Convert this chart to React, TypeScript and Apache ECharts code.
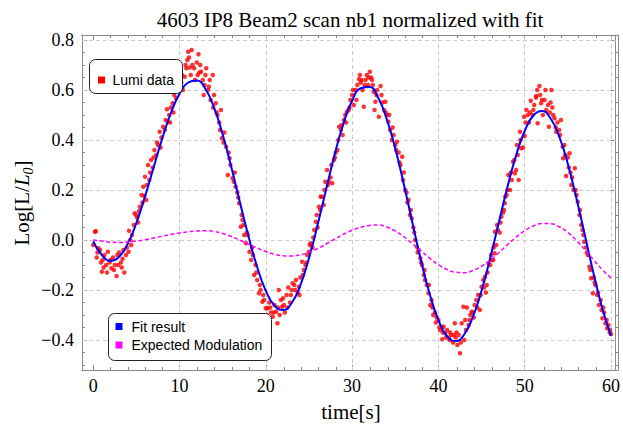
import { useEffect, useRef } from 'react';
import * as echarts from 'echarts';

const TITLE = '4603 IP8 Beam2 scan nb1 normalized with fit';
const X_TITLE = 'time[s]';
const LEGEND_LUMI = 'Lumi data';
const LEGEND_FIT = 'Fit result';
const LEGEND_MOD = 'Expected Modulation';

const X_MIN = -1.3;
const X_MAX = 60.54;
const Y_MIN = -0.52;
const Y_MAX = 0.82;

const xTicks = [0, 10, 20, 30, 40, 50, 60];
const xMinorTicks = [2, 4, 6, 8, 12, 14, 16, 18, 22, 24, 26, 28, 32, 34, 36, 38, 42, 44, 46, 48, 52, 54, 56, 58];
const xGridLines = [10, 20, 30, 40, 50, 60];
const yTicks = [-0.4, -0.2, 0, 0.2, 0.4, 0.6, 0.8];
const yMinorTicks = [-0.5, -0.45, -0.35, -0.3, -0.25, -0.15, -0.1, -0.05, 0.05, 0.1, 0.15, 0.25, 0.3, 0.35, 0.45, 0.5, 0.55, 0.65, 0.7, 0.75];
const yGridLines = [-0.4, -0.2, 0, 0.2, 0.4, 0.6, 0.8];

const curveTime = [
  0, 1, 2, 3, 4, 5, 6, 7, 8, 9, 10, 11, 12, 13, 14, 15, 16, 17, 18, 19, 20,
  21, 22, 23, 24, 25, 26, 27, 28, 29, 30, 31, 32, 33, 34, 35, 36, 37, 38, 39, 40,
  41, 42, 43, 44, 45, 46, 47, 48, 49, 50, 51, 52, 53, 54, 55, 56, 57, 58, 59, 60,
];

const fitValues = [
  -0.005, -0.06, -0.083, -0.067, -0.015, 0.068, 0.174, 0.29, 0.406, 0.508, 0.585,
  0.63, 0.638, 0.604, 0.53, 0.422, 0.292, 0.151, 0.014, -0.108, -0.203,
  -0.262, -0.28, -0.252, -0.181, -0.073, 0.06, 0.204, 0.345, 0.466, 0.557,
  0.607, 0.612, 0.57, 0.485, 0.366, 0.222, 0.067, -0.084, -0.217, -0.32,
  -0.385, -0.404, -0.377, -0.307, -0.203, -0.072, 0.07, 0.212, 0.338, 0.436,
  0.498, 0.516, 0.486, 0.414, 0.304, 0.166, 0.015, -0.137, -0.274, -0.384,
];

const modulationValues = [
  0.0, -0.004, -0.009, -0.01, -0.008, -0.004, 0.001, 0.008, 0.015, 0.022, 0.028,
  0.033, 0.036, 0.037, 0.034, 0.026, 0.014, -0.001, -0.017, -0.032, -0.046,
  -0.057, -0.063, -0.064, -0.059, -0.049, -0.034, -0.016, 0.004, 0.023, 0.039,
  0.051, 0.058, 0.06, 0.052, 0.036, 0.013, -0.015, -0.044, -0.073, -0.099,
  -0.118, -0.129, -0.131, -0.122, -0.105, -0.081, -0.051, -0.019, 0.011, 0.037,
  0.056, 0.066, 0.065, 0.053, 0.03, -0.002, -0.04, -0.08, -0.119, -0.152,
];

const lumiData: [number, number][] = [
  [0, -0.02], [0.2, 0.033], [0.3, 0.035], [0.4, -0.07], [0.6, -0.033], [0.8, -0.04],
  [1.0, -0.127], [1.1, -0.08], [1.3, -0.06], [1.5, -0.1], [1.7, -0.047], [1.9, -0.09],
  [2.1, -0.113], [2.3, -0.07], [2.5, -0.1], [2.7, -0.144], [2.8, -0.06], [3.0, -0.05],
  [3.2, -0.09], [3.4, -0.075], [3.6, -0.13], [3.8, -0.06], [3.9, -0.03],
  [4.1, -0.047], [4.15, 0.037], [4.3, 0.0], [4.5, 0.02], [4.7, 0.06], [4.8, 0.107], [4.95, 0.1],
  [5.1, 0.09], [5.3, 0.115], [5.4, 0.133], [5.6, 0.18], [5.8, 0.213], [5.9, 0.176],
  [6.0, 0.253], [6.15, 0.16], [6.35, 0.3], [6.5, 0.24], [6.7, 0.32], [6.9, 0.29],
  [7.1, 0.36], [7.3, 0.34], [7.5, 0.38], [7.7, 0.433], [7.9, 0.41],
  [8.1, 0.453], [8.3, 0.44], [8.55, 0.523], [8.65, 0.473], [8.8, 0.5], [9.0, 0.53],
  [9.2, 0.547], [9.4, 0.58], [9.6, 0.567], [9.8, 0.6], [10.0, 0.62],
  [10.2, 0.63], [10.4, 0.6], [10.6, 0.653], [10.8, 0.687], [10.9, 0.72], [11.0, 0.753],
  [11.1, 0.73], [11.3, 0.66], [11.5, 0.7], [11.7, 0.687], [11.8, 0.64], [12.0, 0.71],
  [12.2, 0.743], [12.3, 0.67], [12.5, 0.673], [12.7, 0.64], [12.8, 0.58], [13.0, 0.66],
  [13.1, 0.687], [13.3, 0.6], [13.4, 0.613], [13.6, 0.56], [13.85, 0.66], [13.9, 0.53],
  [14.2, 0.547], [14.4, 0.5], [14.6, 0.47], [14.8, 0.52], [14.9, 0.407],
  [15.1, 0.39], [15.4, 0.373], [15.6, 0.26], [15.8, 0.327], [15.9, 0.3],
  [16.15, 0.247], [16.3, 0.233], [16.5, 0.213], [16.7, 0.19], [16.9, 0.147],
  [17.1, 0.053], [17.2, 0.1], [17.4, 0.06], [17.5, 0.02], [17.7, -0.013], [17.9, 0.02],
  [18.1, -0.047], [18.3, -0.08], [18.5, -0.06], [18.65, -0.14], [18.8, -0.1], [19.0, -0.16],
  [19.2, -0.213], [19.4, -0.2], [19.6, -0.247], [19.8, -0.24], [20.0, -0.273],
  [20.2, -0.273], [20.4, -0.25], [20.6, -0.29], [20.8, -0.307], [21.0, -0.26],
  [21.2, -0.287], [21.35, -0.333], [21.5, -0.2], [21.6, -0.3], [21.75, -0.24], [21.9, -0.267], [22.0, -0.233],
  [22.2, -0.29], [22.4, -0.22], [22.6, -0.19], [22.8, -0.25], [23.0, -0.2],
  [23.1, -0.173], [23.3, -0.18], [23.5, -0.16], [23.7, -0.21], [23.85, -0.187], [24.0, -0.15],
  [24.2, -0.087], [24.4, -0.12], [24.6, -0.1], [24.8, -0.06], [25.0, -0.047],
  [25.2, -0.013], [25.4, -0.03], [25.6, 0.04], [25.8, 0.073], [26.0, 0.05],
  [26.15, 0.133], [26.35, 0.173], [26.5, 0.173], [26.7, 0.14], [26.9, 0.233],
  [27.1, 0.28], [27.3, 0.233], [27.5, 0.25], [27.7, 0.227], [27.9, 0.32],
  [28.1, 0.35], [28.3, 0.36], [28.5, 0.453], [28.7, 0.44], [28.9, 0.42],
  [29.05, 0.48], [29.2, 0.5], [29.4, 0.513], [29.6, 0.52], [29.8, 0.56], [30.0, 0.58],
  [30.2, 0.54], [30.4, 0.6], [30.6, 0.62], [30.8, 0.643], [31.0, 0.63],
  [31.2, 0.6], [31.35, 0.533], [31.55, 0.64], [31.7, 0.66], [31.85, 0.62], [32.05, 0.673],
  [32.2, 0.65], [32.3, 0.64], [32.5, 0.593], [32.6, 0.52], [32.7, 0.553], [32.9, 0.6],
  [33.1, 0.493], [33.3, 0.616], [33.5, 0.55], [33.7, 0.52], [33.85, 0.553], [34.0, 0.5],
  [34.2, 0.473], [34.4, 0.44], [34.6, 0.4], [34.8, 0.42], [35.0, 0.38],
  [35.2, 0.393], [35.4, 0.35], [35.6, 0.3], [35.8, 0.333], [35.9, 0.24],
  [36.15, 0.2], [36.3, 0.19], [36.55, 0.16], [36.7, 0.1], [36.9, 0.087],
  [37.1, 0.05], [37.3, 0.0], [37.5, -0.027], [37.7, -0.04], [37.9, -0.073],
  [38.1, -0.1], [38.3, -0.14], [38.45, -0.16], [38.65, -0.18], [38.85, -0.213],
  [39.05, -0.26], [39.2, -0.24], [39.4, -0.3], [39.6, -0.29], [39.8, -0.31], [40.0, -0.32],
  [40.2, -0.36], [40.4, -0.347], [40.45, -0.397], [40.6, -0.347], [40.8, -0.373], [41.0, -0.36],
  [41.2, -0.39], [41.35, -0.37], [41.5, -0.38], [41.7, -0.41], [41.9, -0.333], [42.0, -0.39],
  [42.2, -0.42], [42.35, -0.38], [42.5, -0.453], [42.7, -0.333], [42.9, -0.267], [43.0, -0.4],
  [43.1, -0.32], [43.3, -0.27], [43.5, -0.34], [43.7, -0.3], [43.85, -0.287], [44.0, -0.29],
  [44.2, -0.26], [44.4, -0.24], [44.6, -0.22], [44.8, -0.28], [45.0, -0.187],
  [45.2, -0.16], [45.4, -0.147], [45.5, -0.21], [45.6, -0.18], [45.8, -0.093], [46.0, -0.1],
  [46.2, -0.08], [46.35, -0.08], [46.5, -0.053], [46.55, 0.033], [46.7, -0.02], [46.9, 0.04],
  [47.1, 0.03], [47.3, 0.093], [47.5, 0.11], [47.7, 0.147], [47.75, 0.173], [47.9, 0.18],
  [48.1, 0.26], [48.3, 0.2], [48.5, 0.24], [48.65, 0.313], [48.85, 0.267], [49.0, 0.28],
  [49.2, 0.34], [49.3, 0.24], [49.45, 0.433], [49.6, 0.367], [49.8, 0.37], [49.93, 0.493],
  [50.0, 0.416], [50.2, 0.52], [50.35, 0.5], [50.5, 0.47], [50.7, 0.557], [50.9, 0.5],
  [51.1, 0.54], [51.35, 0.576], [51.45, 0.6], [51.5, 0.467], [51.7, 0.616], [51.9, 0.547],
  [52.1, 0.5], [52.3, 0.56], [52.5, 0.52], [52.7, 0.54], [52.8, 0.453], [53.0, 0.55],
  [53.1, 0.6], [53.3, 0.5], [53.45, 0.487], [53.65, 0.433], [53.8, 0.47], [54.0, 0.44],
  [54.2, 0.48], [54.4, 0.373], [54.45, 0.327], [54.6, 0.38], [54.8, 0.256], [55.0, 0.33],
  [55.2, 0.347], [55.4, 0.22], [55.5, 0.25], [55.65, 0.2], [55.8, 0.287], [56.0, 0.18],
  [56.15, 0.153], [56.35, 0.1], [56.55, 0.06], [56.7, 0.04], [56.9, -0.007],
  [57.1, -0.03], [57.3, -0.06], [57.5, -0.107], [57.7, -0.153], [57.9, -0.213], [58.0, -0.15],
  [58.2, -0.18], [58.4, -0.22], [58.6, -0.26], [58.8, -0.24], [59.0, -0.313],
  [59.2, -0.29], [59.35, -0.333], [59.55, -0.353], [59.7, -0.34], [59.85, -0.37], [60.0, -0.376],
  [0.5, -0.05], [0.9, -0.09], [1.2, -0.11], [1.6, -0.13], [2.0, -0.08], [2.4, -0.12], [2.9, -0.1],
  [3.3, -0.11], [3.5, -0.04], [4.4, -0.02],
  [5.2, 0.07], [5.7, 0.15], [6.2, 0.22], [6.6, 0.27], [7.0, 0.33], [7.4, 0.39], [7.8, 0.37],
  [8.4, 0.48], [8.9, 0.47], [9.3, 0.51], [9.7, 0.61],
  [10.3, 0.66], [10.7, 0.7], [11.2, 0.69], [11.4, 0.76], [12.1, 0.66], [12.4, 0.7], [12.9, 0.62],
  [13.5, 0.64], [14.0, 0.58], [14.3, 0.51], [14.7, 0.44], [15.2, 0.43], [15.7, 0.35],
  [16.4, 0.27], [16.8, 0.17], [17.3, 0.08], [17.8, 0.03], [18.4, -0.03], [18.9, -0.13],
  [19.3, -0.18], [19.7, -0.22], [20.1, -0.3], [20.5, -0.27], [20.9, -0.29], [21.4, -0.27],
  [22.1, -0.26], [22.5, -0.27], [22.9, -0.22], [23.4, -0.2], [23.9, -0.22], [24.3, -0.14],
  [24.7, -0.09], [25.1, -0.02], [25.5, 0.01], [25.9, 0.1], [26.3, 0.12], [26.8, 0.2],
  [27.2, 0.22], [27.6, 0.3], [28.0, 0.33],
  [28.4, 0.4], [28.8, 0.46], [29.3, 0.47], [29.7, 0.53], [30.1, 0.6], [30.5, 0.56], [30.9, 0.66],
  [31.1, 0.64], [31.45, 0.62], [31.9, 0.65], [32.4, 0.62], [32.8, 0.58], [33.4, 0.58], [33.9, 0.51],
  [34.3, 0.5], [34.7, 0.45], [35.1, 0.36], [35.5, 0.31], [36.0, 0.27], [36.4, 0.15], [36.8, 0.12],
  [37.2, 0.03], [37.6, -0.05], [38.0, -0.09], [38.4, -0.12], [38.9, -0.18], [39.3, -0.27], [39.7, -0.33],
  [40.1, -0.35], [40.5, -0.37], [40.9, -0.39], [41.3, -0.4], [41.8, -0.38], [42.1, -0.37], [42.6, -0.41],
  [43.2, -0.36], [43.6, -0.32], [44.1, -0.31], [44.5, -0.27], [44.9, -0.22], [45.3, -0.19], [45.7, -0.13],
  [46.1, -0.06], [46.4, -0.03], [46.8, 0.06], [47.2, 0.07], [47.6, 0.12], [48.0, 0.2], [48.4, 0.27],
  [48.8, 0.32], [49.1, 0.38], [49.5, 0.4], [50.1, 0.47], [50.6, 0.51], [51.0, 0.52], [51.3, 0.57],
  [51.8, 0.58], [52.0, 0.56], [52.4, 0.6], [52.9, 0.51], [53.2, 0.53], [53.6, 0.45], [54.1, 0.42],
  [54.7, 0.34], [55.1, 0.29], [55.3, 0.27], [55.9, 0.2], [56.4, 0.12], [56.8, 0.02], [57.2, -0.05],
  [57.6, -0.12], [58.1, -0.17], [58.5, -0.21], [58.9, -0.28], [59.1, -0.27], [59.5, -0.32], [59.9, -0.36],
];

const FRAME = '#8a8a8a';
const SERIF = '"Liberation Serif", "Times New Roman", serif';
const SANS = '"Liberation Sans", Arial, sans-serif';

function fmtY(v: number) {
  const s = Math.abs(v).toFixed(1);
  return v < -1e-9 ? '\u2212' + s : s;
}

function xAxisDef(position: 'bottom' | 'top', gridIndex: number, ticks: number[], len: number, labels: boolean) {
  return {
    type: 'value',
    gridIndex,
    position,
    min: X_MIN,
    max: X_MAX,
    axisLine: { show: true, onZero: false, lineStyle: { color: FRAME, width: 1 } },
    axisTick: { show: true, inside: true, length: len, customValues: ticks, lineStyle: { color: FRAME, width: 1 } },
    axisLabel: labels
      ? { show: true, customValues: ticks, color: '#000', fontFamily: SERIF, fontSize: 18, margin: 7, formatter: (v: number) => String(Math.round(v)) }
      : { show: false },
    splitLine: { show: false },
  };
}

function yAxisDef(position: 'left' | 'right', gridIndex: number, ticks: number[], len: number, labels: boolean) {
  return {
    type: 'value',
    gridIndex,
    position,
    min: Y_MIN,
    max: Y_MAX,
    axisLine: { show: true, onZero: false, lineStyle: { color: FRAME, width: 1 } },
    axisTick: { show: true, inside: true, length: len, customValues: ticks, lineStyle: { color: FRAME, width: 1 } },
    axisLabel: labels
      ? { show: true, customValues: ticks, color: '#000', fontFamily: SERIF, fontSize: 18, margin: 8, formatter: fmtY }
      : { show: false },
    splitLine: { show: false },
  };
}

export default function App() {
  const ref = useRef<HTMLDivElement>(null);
  useEffect(() => {
    const chart = echarts.init(ref.current!, undefined, { renderer: 'svg' });
    const gridRect = { left: 82, right: 5, top: 35, bottom: 56 };
    const fitData = curveTime.map((t, i) => [t, fitValues[i]]);
    const modData = curveTime.map((t, i) => [t, modulationValues[i]]);
    const gridMarks = [
      ...xGridLines.map((v) => ({ xAxis: v })),
      ...yGridLines.map((v) => ({ yAxis: v })),
    ];
    const option: any = {
      animation: false,
      backgroundColor: '#fff',
      grid: [
        { ...gridRect, containLabel: false },
        { ...gridRect, containLabel: false },
      ],
      xAxis: [
        xAxisDef('bottom', 0, xTicks, 5, true),
        xAxisDef('top', 0, xTicks, 5, false),
        xAxisDef('bottom', 1, xMinorTicks, 3, false),
        xAxisDef('top', 1, xMinorTicks, 3, false),
      ],
      yAxis: [
        yAxisDef('left', 0, yTicks, 5, true),
        yAxisDef('right', 0, yTicks, 5, false),
        yAxisDef('left', 1, yMinorTicks, 3, false),
        yAxisDef('right', 1, yMinorTicks, 3, false),
      ],
      series: [
        {
          type: 'line',
          name: 'grid',
          xAxisIndex: 0,
          yAxisIndex: 0,
          data: [],
          z: 1,
          silent: true,
          markLine: {
            silent: true,
            symbol: ['none', 'none'],
            label: { show: false },
            emphasis: { disabled: true },
            lineStyle: { color: '#cccccc', type: [4, 3], width: 1 },
            data: gridMarks,
          },
        },
        {
          type: 'scatter',
          name: LEGEND_LUMI,
          xAxisIndex: 0,
          yAxisIndex: 0,
          data: lumiData,
          symbol: 'circle',
          symbolSize: 4.5,
          itemStyle: { color: '#ff0000' },
          z: 10,
        },
        {
          type: 'line',
          name: LEGEND_FIT,
          xAxisIndex: 0,
          yAxisIndex: 0,
          data: fitData,
          smooth: true,
          showSymbol: false,
          symbol: 'none',
          lineStyle: { color: '#0000ff', width: 2 },
          z: 11,
        },
        {
          type: 'line',
          name: LEGEND_MOD,
          xAxisIndex: 0,
          yAxisIndex: 0,
          data: modData,
          smooth: true,
          showSymbol: false,
          symbol: 'none',
          lineStyle: { color: '#ff00ff', width: 1.5, type: [4, 2.5] },
          z: 12,
        },
      ],
      graphic: [
        {
          type: 'text',
          x: 350,
          y: 20,
          z: 100,
          style: { text: TITLE, fontFamily: SERIF, fontSize: 21, fill: '#000', align: 'center', verticalAlign: 'middle', textAlign: 'center', textVerticalAlign: 'middle' },
        },
        {
          type: 'text',
          x: 351,
          y: 412,
          z: 100,
          style: { text: X_TITLE, fontFamily: SERIF, fontSize: 21, fill: '#000', align: 'center', verticalAlign: 'middle', textAlign: 'center', textVerticalAlign: 'middle' },
        },
        {
          type: 'text',
          x: 22,
          y: 203,
          rotation: Math.PI / 2,
          z: 100,
          style: {
            text: '{a|Log[L/}{b|L}{c|0}{a|]}',
            align: 'center',
            verticalAlign: 'middle',
            textAlign: 'center',
            textVerticalAlign: 'middle',
            fill: '#000',
            rich: {
              a: { fontFamily: SERIF, fontSize: 21, lineHeight: 26, fill: '#000', color: '#000' },
              b: { fontFamily: SERIF, fontSize: 21, fontStyle: 'italic', lineHeight: 26, fill: '#000', color: '#000' },
              c: { fontFamily: SERIF, fontSize: 14, fontStyle: 'italic', lineHeight: 14, verticalAlign: 'bottom', fill: '#000', color: '#000' },
            },
          },
        },
        {
          type: 'rect',
          z: 100,
          shape: { x: 89.5, y: 59.5, width: 93, height: 34, r: 6 },
          style: { fill: '#fff', stroke: '#222', lineWidth: 1 },
        },
        {
          type: 'rect',
          z: 101,
          shape: { x: 98, y: 76.5, width: 7, height: 7 },
          style: { fill: '#ff0000' },
        },
        {
          type: 'text',
          x: 112.5,
          y: 79.5,
          z: 101,
          style: { text: LEGEND_LUMI, fontFamily: SANS, fontSize: 14, fill: '#000', verticalAlign: 'middle', textVerticalAlign: 'middle' },
        },
        {
          type: 'rect',
          z: 100,
          shape: { x: 108.5, y: 313.5, width: 163, height: 47, r: 6 },
          style: { fill: '#fff', stroke: '#222', lineWidth: 1 },
        },
        {
          type: 'rect',
          z: 101,
          shape: { x: 115.5, y: 323, width: 7, height: 7 },
          style: { fill: '#0000ff' },
        },
        {
          type: 'text',
          x: 131.5,
          y: 326.5,
          z: 101,
          style: { text: LEGEND_FIT, fontFamily: SANS, fontSize: 14, fill: '#000', verticalAlign: 'middle', textVerticalAlign: 'middle' },
        },
        {
          type: 'rect',
          z: 101,
          shape: { x: 115.5, y: 341.5, width: 7, height: 7 },
          style: { fill: '#ff00ff' },
        },
        {
          type: 'text',
          x: 131.5,
          y: 345,
          z: 101,
          style: { text: LEGEND_MOD, fontFamily: SANS, fontSize: 14, fill: '#000', verticalAlign: 'middle', textVerticalAlign: 'middle' },
        },
      ],
    };
    chart.setOption(option);
    return () => chart.dispose();
  }, []);
  return (
    <div
      ref={ref}
      style={{ position: 'fixed', left: 0, top: 0, width: 623, height: 426, background: '#fff' }}
    />
  );
}
